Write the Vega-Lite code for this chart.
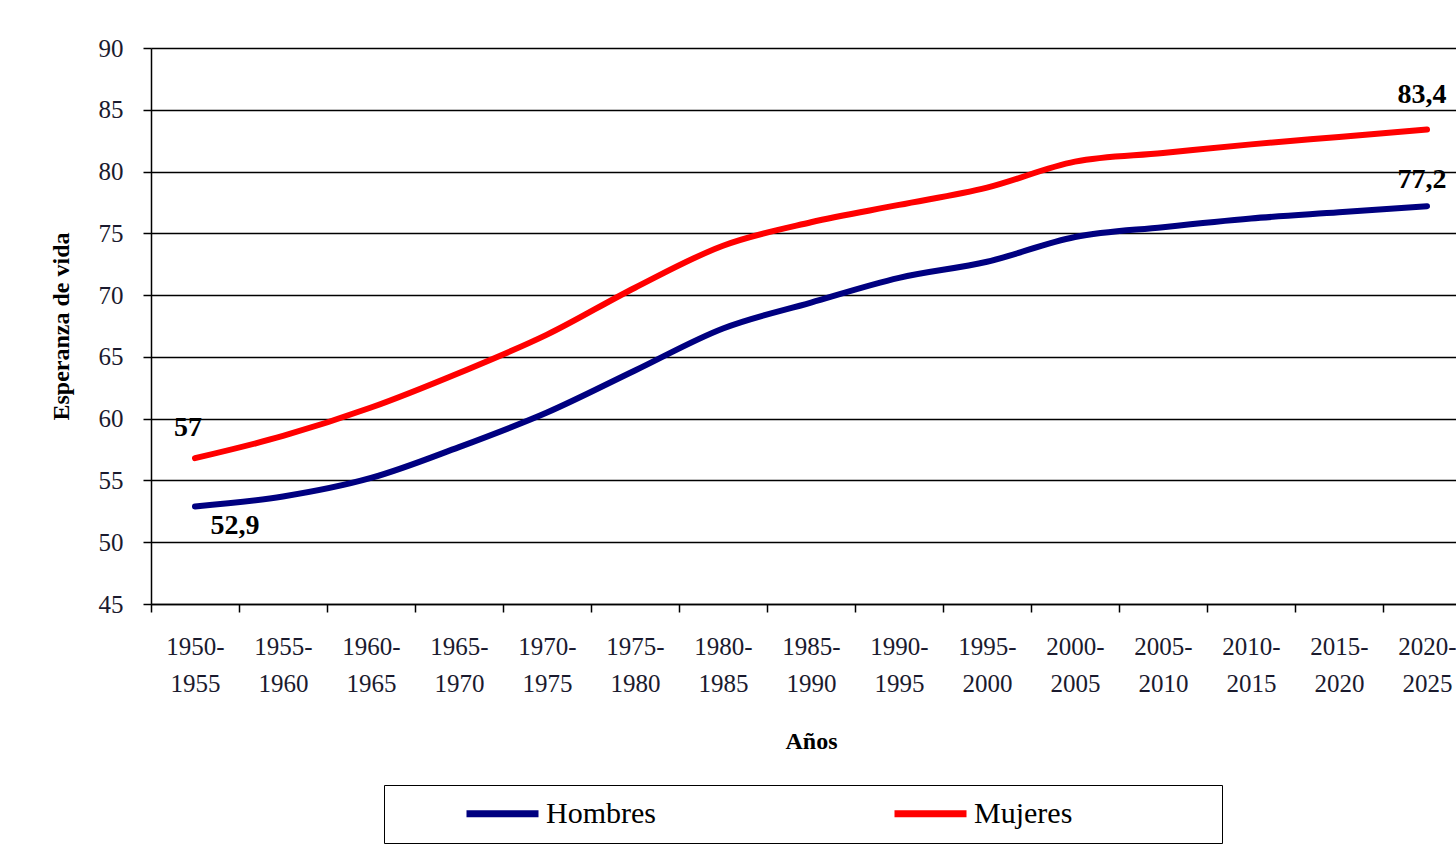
{
  "$schema": "https://vega.github.io/schema/vega-lite/v6.json",
  "autosize": "none",
  "padding": {"left": 151, "top": 48, "right": 0, "bottom": 254},
  "width": 1320,
  "height": 556,
  "background": "white",
  "config": {
    "font": "Liberation Serif",
    "view": {"stroke": null},
    "style": {
      "guide-label": {"font": "Liberation Serif"},
      "guide-title": {"font": "Liberation Serif"}
    }
  },
  "data": {"values": [
    {"periodo": "1950-1955", "sexo": "Hombres", "valor": 52.9, "etiqueta": "52,9"},
    {"periodo": "1955-1960", "sexo": "Hombres", "valor": 53.7},
    {"periodo": "1960-1965", "sexo": "Hombres", "valor": 55.2},
    {"periodo": "1965-1970", "sexo": "Hombres", "valor": 57.7},
    {"periodo": "1970-1975", "sexo": "Hombres", "valor": 60.5},
    {"periodo": "1975-1980", "sexo": "Hombres", "valor": 63.9},
    {"periodo": "1980-1985", "sexo": "Hombres", "valor": 67.3},
    {"periodo": "1985-1990", "sexo": "Hombres", "valor": 69.4},
    {"periodo": "1990-1995", "sexo": "Hombres", "valor": 71.4},
    {"periodo": "1995-2000", "sexo": "Hombres", "valor": 72.7},
    {"periodo": "2000-2005", "sexo": "Hombres", "valor": 74.7},
    {"periodo": "2005-2010", "sexo": "Hombres", "valor": 75.5},
    {"periodo": "2010-2015", "sexo": "Hombres", "valor": 76.2},
    {"periodo": "2015-2020", "sexo": "Hombres", "valor": 76.7},
    {"periodo": "2020-2025", "sexo": "Hombres", "valor": 77.2, "etiqueta": "77,2"},
    {"periodo": "1950-1955", "sexo": "Mujeres", "valor": 56.8, "etiqueta": "57"},
    {"periodo": "1955-1960", "sexo": "Mujeres", "valor": 58.6},
    {"periodo": "1960-1965", "sexo": "Mujeres", "valor": 60.9},
    {"periodo": "1965-1970", "sexo": "Mujeres", "valor": 63.7},
    {"periodo": "1970-1975", "sexo": "Mujeres", "valor": 66.8},
    {"periodo": "1975-1980", "sexo": "Mujeres", "valor": 70.6},
    {"periodo": "1980-1985", "sexo": "Mujeres", "valor": 74.0},
    {"periodo": "1985-1990", "sexo": "Mujeres", "valor": 75.9},
    {"periodo": "1990-1995", "sexo": "Mujeres", "valor": 77.3},
    {"periodo": "1995-2000", "sexo": "Mujeres", "valor": 78.7},
    {"periodo": "2000-2005", "sexo": "Mujeres", "valor": 80.8},
    {"periodo": "2005-2010", "sexo": "Mujeres", "valor": 81.5},
    {"periodo": "2010-2015", "sexo": "Mujeres", "valor": 82.2},
    {"periodo": "2015-2020", "sexo": "Mujeres", "valor": 82.8},
    {"periodo": "2020-2025", "sexo": "Mujeres", "valor": 83.4, "etiqueta": "83,4"}
  ]},
  "encoding": {
    "x": {
      "field": "periodo", "type": "ordinal", "title": "Años",
      "scale": {"paddingInner": 0, "paddingOuter": 0},
      "axis": {
        "labelAngle": 0, "labelFontSize": 25, "labelLineHeight": 37,
        "labelFont": "Liberation Serif", "labelColor": "#1a1a2e",
        "labelExpr": "[slice(datum.label, 0, 5), slice(datum.label, 5)]",
        "labelPadding": 22, "labelBaseline": "top",
        "tickBand": "extent", "tickColor": "#000", "tickSize": 8, "tickWidth": 1.5,
        "domainColor": "#000", "domainWidth": 1.5,
        "titleFont": "Liberation Serif", "titleColor": "#000",
        "titleFontSize": 24, "titleFontWeight": "bold", "titlePadding": 33
      }
    },
    "y": {
      "field": "valor", "type": "quantitative", "title": "Esperanza de vida",
      "scale": {"domain": [45, 90], "nice": false, "zero": false},
      "axis": {
        "values": [45, 50, 55, 60, 65, 70, 75, 80, 85, 90],
        "labelFontSize": 25, "labelPadding": 20,
        "labelFont": "Liberation Serif", "labelColor": "#1a1a2e",
        "tickColor": "#000", "tickSize": 8, "tickWidth": 1.5,
        "domainColor": "#000", "domainWidth": 1.5,
        "grid": true, "gridColor": "#000", "gridWidth": 1.3, "gridOpacity": 1,
        "titleFont": "Liberation Serif", "titleColor": "#000",
        "titleFontSize": 24, "titleFontWeight": "bold", "titlePadding": 25
      }
    }
  },
  "layer": [
    {
      "mark": {"type": "line", "strokeWidth": 6, "strokeCap": "round", "interpolate": "monotone"},
      "encoding": {
        "color": {
          "field": "sexo", "type": "nominal", "title": null,
          "scale": {"domain": ["Hombres", "Mujeres"], "range": ["#000080", "#ff0000"]},
          "legend": {
            "orient": "none", "legendX": 233, "legendY": 737, "direction": "horizontal",
            "symbolType": "stroke", "symbolSize": 5184, "symbolStrokeWidth": 7,
            "clipHeight": 29,
            "labelFontSize": 30, "labelFont": "Liberation Serif", "labelColor": "#000", "labelOffset": 4,
            "labelLimit": 500,
            "columnPadding": 35, "padding": 14, "symbolOffset": 65,
            "labelExpr": "datum.label + '\u2007\u2007\u2007\u2007\u2007\u2007\u2007\u2007\u2007\u200b'",
            "fillColor": "white", "strokeColor": "#000"
          }
        }
      }
    },
    {
      "transform": [{"filter": "datum.etiqueta == '57'"}],
      "mark": {"type": "text", "fontSize": 28, "fontWeight": "bold", "dx": -7, "dy": -30, "color": "#000"},
      "encoding": {"text": {"field": "etiqueta"}}
    },
    {
      "transform": [{"filter": "datum.etiqueta == '52,9'"}],
      "mark": {"type": "text", "fontSize": 28, "fontWeight": "bold", "dx": 40, "dy": 20, "color": "#000"},
      "encoding": {"text": {"field": "etiqueta"}}
    },
    {
      "transform": [{"filter": "datum.etiqueta == '83,4'"}],
      "mark": {"type": "text", "fontSize": 28, "fontWeight": "bold", "dx": -5, "dy": -35, "color": "#000"},
      "encoding": {"text": {"field": "etiqueta"}}
    },
    {
      "transform": [{"filter": "datum.etiqueta == '77,2'"}],
      "mark": {"type": "text", "fontSize": 28, "fontWeight": "bold", "dx": -5, "dy": -26, "color": "#000"},
      "encoding": {"text": {"field": "etiqueta"}}
    }
  ]
}
